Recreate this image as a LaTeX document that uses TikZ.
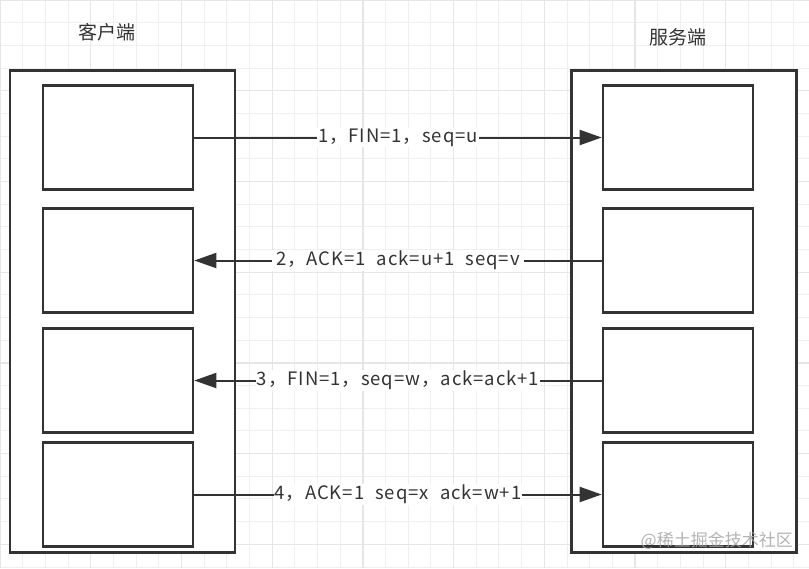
\documentclass[tikz,border=0pt]{standalone}
\usepackage{fontspec}
\setmainfont{Noto Sans CJK SC}
\newfontfamily\labfont[LetterSpace=5,WordSpace=2.2]{Noto Sans CJK SC}
\usetikzlibrary{arrows.meta}
\definecolor{ink}{HTML}{333333}
\definecolor{gridminor}{HTML}{EFEFEF}
\definecolor{gridmajor}{HTML}{E6E6E6}
\begin{document}
\begin{tikzpicture}[x=1pt,y=-1pt,
  outerbox/.style={draw=ink, line width=2.6pt, fill=white, minimum width=225pt, minimum height=482pt, inner sep=0pt},
  innerbox/.style={draw=ink, line width=2.6pt, fill=white, minimum width=150pt, minimum height=104pt, inner sep=0pt},
  msg/.style={draw=ink, line width=2pt, -{Triangle[length=22pt,width=15pt]}},
  msglabel/.style={fill=white, inner sep=1pt, font=\labfont\fontsize{18.5}{20}\selectfont, text=ink},
  titletext/.style={font=\fontsize{19}{22}\selectfont, text=ink},
  watermark/.style={font=\fontsize{17}{20}\selectfont, text=black!35, inner sep=0pt},
  gridthin/.style={draw=gridminor, line width=1pt},
  gridthick/.style={draw=gridmajor, line width=1.3pt}]
\useasboundingbox (0,0) rectangle (809,568);
\fill[white] (0,0) rectangle (809,568);
\foreach \i in {0,...,36} {\draw[gridthin] ({\i*22.68},0) -- ({\i*22.68},568);}
\foreach \i in {0,...,25} {\draw[gridthin] (0,{\i*22.68}) -- (809,{\i*22.68});}
\foreach \i in {0,...,9} {\draw[gridthick] ({\i*90.72},0) -- ({\i*90.72},568);}
\foreach \i in {0,...,6} {\draw[gridthick] (0,{\i*90.72}) -- (809,{\i*90.72});}

\node[titletext] (ct) at (107,32) {客户端};
\node[titletext] (st) at (678,37) {服务端};

\node[outerbox] (L) at (122.5,311.5) {};
\node[outerbox] (R) at (684,311.5) {};

\node[innerbox] (L1) at (118,137.5) {};
\node[innerbox] (L2) at (118,260.5) {};
\node[innerbox] (L3) at (118,380.5) {};
\node[innerbox] (L4) at (118,494.5) {};
\node[innerbox] (R1) at (678,137.5) {};
\node[innerbox] (R2) at (678,260.5) {};
\node[innerbox] (R3) at (678,380.5) {};
\node[innerbox] (R4) at (678,494.5) {};

\draw[msg] (L1.east) -- node[msglabel] (m1) {1，FIN=1，seq=u} (R1.west);
\draw[msg] (R2.west) -- node[msglabel, inner xsep=4pt] (m2) {2，ACK=1 ack=u+1 seq=v} (L2.east);
\draw[msg] (R3.west) -- node[msglabel] (m3) {3，FIN=1，seq=w，ack=ack+1} (L3.east);
\draw[msg] (L4.east) -- node[msglabel] (m4) {4，ACK=1 seq=x ack=w+1} (R4.west);

\node[watermark, anchor=east, opacity=0.85] (wm) at (793,541) {@稀土掘金技术社区};
\end{tikzpicture}
\end{document}
